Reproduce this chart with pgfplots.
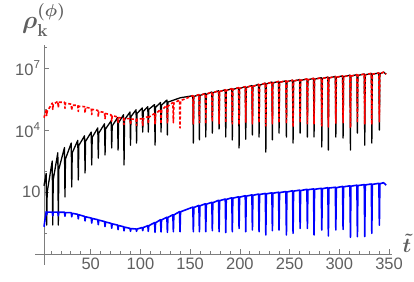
\documentclass[border=0pt]{standalone}
\usepackage{amsmath}
\usepackage[no-math]{fontspec}
\setmainfont{Liberation Sans}
\usepackage{pgfplots}
\usepackage{pgfplotstable}
\pgfplotsset{compat=1.18}
\definecolor{axcol}{RGB}{125,125,125}
\definecolor{lblcol}{RGB}{95,95,95}

\pgfplotstableread{
x y
3.0 2.00e1
5.2 7.94e1
5.7 2.51e-1
6.2 1.00e1
11.3 3.16e2
11.8 2.51e-1
12.3 3.98e1
16.9 7.94e2
17.4 2.51e-1
17.9 1.26e2
23.6 1.41e3
24.1 5.75e0
24.6 3.98e2
30.4 2.34e3
30.9 1.74e1
31.4 7.94e2
37.0 3.16e3
37.5 3.80e1
38.0 1.78e3
43.8 5.25e3
44.3 8.32e1
44.8 2.82e3
50.5 7.94e3
51.0 2.04e2
51.5 4.47e3
57.1 1.26e4
57.6 4.37e2
58.1 7.08e3
63.9 2.00e4
64.4 6.17e2
64.9 1.12e4
70.6 2.82e4
71.1 1.35e3
71.6 1.58e4
77.0 3.98e4
77.5 1.07e3
78.0 2.24e4
83.0 5.50e4
83.5 2.04e2
84.0 3.16e4
89.5 7.41e4
90.0 1.86e3
90.5 4.47e4
95.6 9.55e4
96.1 2.34e3
96.6 6.31e4
101.8 1.17e5
102.3 7.94e3
102.8 7.94e4
107.4 1.35e5
107.9 7.94e3
108.4 1.00e5
114.2 1.70e5
114.7 1.86e3
115.2 1.26e5
120.2 2.14e5
120.7 7.94e3
121.2 1.58e5
126.6 2.82e5
127.1 5.75e3
127.6 2.24e5
140.0 3.63e5
152.7 4.57e5
153.2 2.34e3
153.7 4.17e5
158.8 5.13e5
159.3 3.31e3
159.8 4.68e5
165.2 5.89e5
165.7 4.57e3
166.2 5.37e5
171.8 6.92e5
172.3 7.08e3
172.8 6.31e5
178.6 7.94e5
179.1 1.12e4
179.6 7.24e5
185.3 8.91e5
185.8 4.57e3
186.3 8.13e5
191.9 1.00e6
192.4 3.31e3
192.9 9.12e5
198.7 1.12e6
199.2 1.35e3
199.7 1.02e6
205.4 1.26e6
205.9 3.63e3
206.4 1.15e6
212.1 1.41e6
212.6 5.75e3
213.1 1.29e6
218.8 1.62e6
219.3 4.57e3
219.8 1.48e6
225.6 1.86e6
226.1 8.51e2
226.6 1.70e6
232.2 2.09e6
232.7 3.31e3
233.2 1.91e6
238.9 2.24e6
239.4 7.08e3
239.9 2.04e6
246.3 2.40e6
246.8 4.57e3
247.3 2.19e6
253.0 2.57e6
253.5 2.34e3
254.0 2.34e6
260.1 2.75e6
260.6 7.08e3
261.1 2.51e6
267.4 2.95e6
267.9 4.57e3
268.4 2.69e6
274.1 3.16e6
274.6 4.57e3
275.1 2.88e6
281.9 3.39e6
282.4 1.51e3
282.9 3.09e6
288.5 3.63e6
289.0 1.07e3
289.5 3.31e6
296.0 3.89e6
296.5 4.57e3
297.0 3.55e6
303.3 4.17e6
303.8 4.07e3
304.3 3.80e6
310.7 4.47e6
311.2 1.07e3
311.7 4.07e6
317.7 4.79e6
318.2 7.08e3
318.7 4.37e6
325.1 5.13e6
325.6 1.86e3
326.1 4.68e6
332.2 5.50e6
332.7 2.34e3
333.2 5.01e6
339.8 5.75e6
340.3 1.00e4
340.8 5.25e6
344.5 6.31e6
347.1 5.01e6
}\blackdata

\pgfplotstableread{
x y
3.0 3.98e4
5.2 8.91e4
5.7 5.01e4
6.2 7.94e4
11.3 2.00e5
11.8 1.00e5
12.3 1.78e5
16.9 2.40e5
17.4 1.20e5
17.9 2.19e5
23.6 2.24e5
24.1 1.12e5
24.6 2.00e5
30.4 1.78e5
30.9 8.91e4
31.4 1.58e5
37.0 1.58e5
37.5 7.94e4
38.0 1.41e5
43.8 1.35e5
44.3 6.76e4
44.8 1.26e5
50.5 1.12e5
51.0 5.62e4
51.5 1.00e5
57.1 8.91e4
57.6 4.47e4
58.1 7.94e4
63.9 7.08e4
64.4 3.55e4
64.9 6.31e4
70.6 5.37e4
71.1 2.69e4
71.6 5.01e4
77.0 4.27e4
77.5 2.14e4
78.0 3.98e4
83.0 3.72e4
83.5 1.86e4
84.0 3.55e4
89.5 3.55e4
90.0 1.78e4
90.5 3.39e4
95.6 3.39e4
96.1 1.70e4
96.6 3.31e4
101.8 3.55e4
102.3 1.58e4
102.8 3.39e4
107.4 4.47e4
107.9 2.00e4
108.4 4.17e4
114.2 6.31e4
114.7 2.00e4
115.2 5.89e4
120.2 1.00e5
120.7 2.00e4
121.2 8.91e4
126.6 1.58e5
127.1 2.00e4
127.6 1.41e5
132.6 2.14e5
133.1 2.24e4
133.6 2.00e5
139.3 2.82e5
139.8 1.26e4
140.3 2.63e5
152.7 4.57e5
153.2 2.00e4
153.7 4.17e5
158.8 5.13e5
159.3 2.24e4
159.8 4.68e5
165.2 5.89e5
165.7 2.00e4
166.2 5.37e5
171.8 6.92e5
172.3 2.51e4
172.8 6.31e5
178.6 7.94e5
179.1 2.00e4
179.6 7.24e5
185.3 8.91e5
185.8 2.24e4
186.3 8.13e5
191.9 1.00e6
192.4 2.00e4
192.9 9.12e5
198.7 1.12e6
199.2 1.78e4
199.7 1.02e6
205.4 1.26e6
205.9 2.24e4
206.4 1.15e6
212.1 1.41e6
212.6 2.00e4
213.1 1.29e6
218.8 1.62e6
219.3 2.24e4
219.8 1.48e6
225.6 1.86e6
226.1 1.58e4
226.6 1.70e6
232.2 2.09e6
232.7 2.00e4
233.2 1.91e6
238.9 2.24e6
239.4 2.24e4
239.9 2.04e6
246.3 2.40e6
246.8 2.00e4
247.3 2.19e6
253.0 2.57e6
253.5 1.41e4
254.0 2.34e6
260.1 2.75e6
260.6 2.24e4
261.1 2.51e6
267.4 2.95e6
267.9 2.00e4
268.4 2.69e6
274.1 3.16e6
274.6 2.00e4
275.1 2.88e6
281.9 3.39e6
282.4 1.58e4
282.9 3.09e6
288.5 3.63e6
289.0 1.41e4
289.5 3.31e6
296.0 3.89e6
296.5 2.00e4
297.0 3.55e6
303.3 4.17e6
303.8 2.24e4
304.3 3.80e6
310.7 4.47e6
311.2 1.26e4
311.7 4.07e6
317.7 4.79e6
318.2 2.24e4
318.7 4.37e6
325.1 5.13e6
325.6 2.00e4
326.1 4.68e6
332.2 5.50e6
332.7 1.78e4
333.2 5.01e6
339.8 5.75e6
340.3 2.51e4
340.8 5.25e6
344.5 6.31e6
347.1 5.01e6
}\reddata

\pgfplotstableread{
x y
3.0 2.09e-1
5.2 1.12e0
5.7 7.94e-1
6.2 1.07e0
11.3 1.07e0
11.8 7.08e-1
12.3 1.05e0
16.9 1.07e0
17.4 7.08e-1
17.9 1.05e0
23.6 1.05e0
24.1 6.76e-1
24.6 1.00e0
30.4 1.00e0
30.9 6.31e-1
31.4 9.33e-1
37.0 8.32e-1
37.5 5.01e-1
38.0 7.94e-1
43.8 6.61e-1
44.3 3.98e-1
44.8 6.31e-1
50.5 5.50e-1
51.0 3.16e-1
51.5 5.25e-1
57.1 4.57e-1
57.6 2.63e-1
58.1 4.37e-1
63.9 3.72e-1
64.4 2.14e-1
64.9 3.55e-1
70.6 3.02e-1
71.1 1.78e-1
71.6 2.88e-1
77.0 2.51e-1
77.5 1.51e-1
78.0 2.40e-1
83.0 2.09e-1
83.5 1.32e-1
84.0 2.00e-1
89.5 1.74e-1
90.0 1.26e-1
90.5 1.70e-1
95.6 1.62e-1
96.1 1.26e-1
96.6 1.62e-1
101.8 1.91e-1
102.3 1.35e-1
102.8 1.91e-1
107.4 2.34e-1
107.9 1.26e-1
108.4 2.34e-1
114.2 3.31e-1
114.7 1.12e-1
115.2 3.24e-1
120.2 4.57e-1
120.7 1.17e-1
121.2 4.47e-1
126.6 6.03e-1
127.1 1.12e-1
127.6 5.89e-1
132.6 7.94e-1
133.1 1.20e-1
133.6 7.76e-1
139.3 1.12e0
139.8 1.20e-1
140.3 1.10e0
152.7 1.86e0
153.2 1.20e-1
153.7 1.78e0
158.8 2.24e0
159.3 1.20e-1
159.8 2.14e0
165.2 2.69e0
165.7 1.20e-1
166.2 2.57e0
171.8 3.16e0
172.3 1.35e-1
172.8 3.02e0
178.6 3.98e0
179.1 1.20e-1
179.6 3.80e0
185.3 4.57e0
185.8 1.10e-1
186.3 4.37e0
191.9 5.25e0
192.4 1.20e-1
192.9 5.01e0
198.7 5.89e0
199.2 1.74e-1
199.7 5.62e0
205.4 6.61e0
205.9 1.20e-1
206.4 6.31e0
212.1 7.24e0
212.6 1.45e-1
213.1 6.92e0
218.8 7.94e0
219.3 1.20e-1
219.8 7.59e0
225.6 8.51e0
226.1 8.32e-2
226.6 8.13e0
232.2 9.12e0
232.7 1.35e-1
233.2 8.71e0
238.9 9.77e0
239.4 1.45e-1
239.9 9.33e0
246.3 1.05e1
246.8 8.32e-2
247.3 1.00e1
253.0 1.15e1
253.5 1.00e-1
254.0 1.10e1
260.1 1.23e1
260.6 1.74e-1
261.1 1.17e1
267.4 1.35e1
267.9 1.74e-1
268.4 1.29e1
274.1 1.41e1
274.6 8.32e-2
275.1 1.35e1
281.9 1.51e1
282.4 1.45e-1
282.9 1.45e1
288.5 1.62e1
289.0 7.41e-2
289.5 1.55e1
296.0 1.70e1
296.5 1.45e-1
297.0 1.62e1
303.3 1.86e1
303.8 1.55e-1
304.3 1.78e1
310.7 2.00e1
311.2 6.46e-2
311.7 1.91e1
317.7 2.14e1
318.2 6.92e-2
318.7 2.04e1
325.1 2.29e1
325.6 6.92e-2
326.1 2.19e1
332.2 2.45e1
332.7 1.00e-1
333.2 2.34e1
339.8 2.63e1
340.3 2.51e-1
340.8 2.51e1
344.5 2.82e1
347.1 2.14e1
}\bluedata

\begin{document}
\begin{tikzpicture}
\useasboundingbox (-44pt,-27pt) rectangle (370pt,254pt);
\begin{axis}[
  scale only axis, width=348pt, height=209pt,
  at={(0,0)}, anchor=south west,
  xmin=3, xmax=353,
  ymode=log, ymin=1e-2, ymax=1.3e8,
  axis x line=bottom, axis y line=left,
  axis line style={axcol, line width=0.8pt, -},
  tick align=inside,
  tick style={axcol, line width=0.7pt},
  major tick length=5pt, minor tick length=3pt,
  xtick={50,100,...,350},
  minor xtick={10,20,...,350},
  ytick={1e1,1e4,1e7},
  yticklabels={10, 10\textsuperscript{4}, 10\textsuperscript{7}},
  minor ytick={1e-1,1e2,1e5,1e8},
  ticklabel style={font=\fontsize{16.5}{18}\selectfont, text=lblcol},
  xticklabel style={inner sep=2pt, yshift=-2pt},
  /pgf/number format/assume math mode=true,
  clip=false,
]
\addplot[black, line width=1.3pt, line join=round] table[x=x,y=y] {\blackdata};
\addplot[red, line width=1.6pt, line join=round, dash pattern=on 3pt off 2pt] table[x=x,y=y] {\reddata};
\addplot[blue, line width=1.6pt, line join=round] table[x=x,y=y] {\bluedata};
\draw[axcol, line width=0.8pt] (axis cs:3,1e-2) -- (axis cs:3,2.95e-3);
\draw[axcol, line width=0.8pt] (axis cs:3,1e-2) -- (axis cs:-6,1e-2);
\end{axis}
\node[anchor=base west, inner sep=0pt, text=lblcol, font=\fontsize{26}{29}\selectfont] at (-22pt,225pt) {$\boldsymbol{\rho}_{\mathbf{k}}^{\boldsymbol{(\phi)}}$};
\node[inner sep=0pt, text=lblcol, font=\fontsize{22}{25}\selectfont] at (363pt,11pt) {$\boldsymbol{\tilde{t}}$};
\end{tikzpicture}
\end{document}
